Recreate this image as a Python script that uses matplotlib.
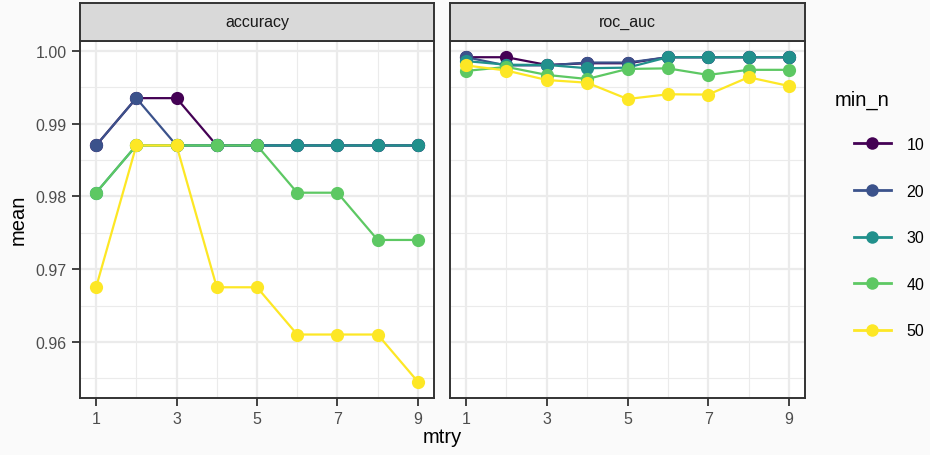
import matplotlib
matplotlib.use("Agg")
import matplotlib.pyplot as plt
from matplotlib.lines import Line2D
import numpy as np

plt.rcParams['font.family'] = ['Liberation Sans', 'DejaVu Sans']

# data
mtry = [1, 2, 3, 4, 5, 6, 7, 8, 9]
min_n = ['10', '20', '30', '40', '50']
colors = ['#440154', '#3B528B', '#21908C', '#5DC863', '#FDE725']

accuracy = {
    '10': [0.98701, 0.99351, 0.99351, 0.98701, 0.98701, 0.98701, 0.98701, 0.98701, 0.98701],
    '20': [0.98701, 0.99351, 0.98701, 0.98701, 0.98701, 0.98701, 0.98701, 0.98701, 0.98701],
    '30': [0.98052, 0.98701, 0.98701, 0.98701, 0.98701, 0.98701, 0.98701, 0.98701, 0.98701],
    '40': [0.98052, 0.98701, 0.98701, 0.98701, 0.98701, 0.98052, 0.98052, 0.97403, 0.97403],
    '50': [0.96753, 0.98701, 0.98701, 0.96753, 0.96753, 0.96104, 0.96104, 0.96104, 0.95455],
}
roc_auc = {
    '10': [0.99913, 0.99913, 0.99807, 0.99830, 0.99830, 0.99913, 0.99913, 0.99913, 0.99913],
    '20': [0.99913, 0.99800, 0.99800, 0.99840, 0.99840, 0.99913, 0.99913, 0.99913, 0.99913],
    '30': [0.99860, 0.99810, 0.99807, 0.99762, 0.99770, 0.99913, 0.99913, 0.99913, 0.99913],
    '40': [0.99725, 0.99780, 0.99670, 0.99614, 0.99752, 0.99760, 0.99670, 0.99740, 0.99740],
    '50': [0.99800, 0.99730, 0.99600, 0.99563, 0.99339, 0.99404, 0.99400, 0.99638, 0.99518],
}
metrics = ['accuracy', 'roc_auc']
values = {'accuracy': accuracy, 'roc_auc': roc_auc}

W, H = 930, 456
fig = plt.figure(figsize=(W / 100, H / 100), dpi=100, facecolor='#FAFAFA')

def px_axes(x0, y0, x1, y1):
    return fig.add_axes([x0 / W, 1 - y1 / H, (x1 - x0) / W, (y1 - y0) / H])

allv = np.concatenate([np.array(values[m][k]) for m in metrics for k in min_n])
ymin, ymax = allv.min(), allv.max()
ypad = (ymax - ymin) * 0.05
xpad = (max(mtry) - min(mtry)) * 0.05

panels = [(80, 434), (450, 805)]
top, bottom = 42, 399
edge = '#333333'

for i, (m, (x0, x1)) in enumerate(zip(metrics, panels)):
    ax = px_axes(x0, top, x1, bottom)
    ax.set_facecolor('white')
    for k, c in zip(min_n, colors):
        ax.plot(mtry, values[m][k], color=c, lw=1.6, zorder=2, solid_capstyle='butt')
    for k, c in zip(min_n, colors):
        ax.plot(mtry, values[m][k], 'o', color=c, ms=9.5, mew=0, zorder=3)
    ax.set_xlim(min(mtry) - xpad, max(mtry) + xpad)
    ax.set_ylim(ymin - ypad, ymax + ypad)
    ax.set_xticks([1, 3, 5, 7, 9])
    ax.set_xticks([2, 4, 6, 8], minor=True)
    ax.set_yticks([0.96, 0.97, 0.98, 0.99, 1.00])
    ax.set_yticks([0.955, 0.965, 0.975, 0.985, 0.995], minor=True)
    ax.grid(which='major', color='#EBEBEB', lw=1.6, zorder=0)
    ax.grid(which='minor', color='#EBEBEB', lw=0.8, zorder=0)
    ax.set_axisbelow(True)
    for s in ax.spines.values():
        s.set_color(edge)
        s.set_linewidth(1.4)
    ax.tick_params(which='major', length=5.5, width=1.3, color=edge,
                   labelsize=11.5, labelcolor='#4D4D4D', pad=4)
    ax.tick_params(which='minor', length=0)
    if i == 0:
        ax.set_yticklabels(['0.96', '0.97', '0.98', '0.99', '1.00'])
    else:
        ax.tick_params(axis='y', which='both', left=False, labelleft=False)

    # strip
    sax = px_axes(x0, 4, x1, top)
    sax.set_xlim(0, 1)
    sax.set_ylim(0, 1)
    sax.set_xticks([])
    sax.set_yticks([])
    sax.set_facecolor('#D9D9D9')
    for s in sax.spines.values():
        s.set_color(edge)
        s.set_linewidth(1.4)
    sax.text(0.5, 0.5, m, ha='center', va='center', fontsize=11.5, color='#1A1A1A')

fig.text(442 / W, 1 - 438 / H, 'mtry', ha='center', va='center', fontsize=14.5)
fig.text(18 / W, 1 - 220 / H, 'mean', ha='center', va='center', fontsize=14.5, rotation=90)

fig.text(835 / W, 1 - 100 / H, 'min_n', ha='left', va='center', fontsize=14.5)
handles = [Line2D([0], [0], color=c, lw=2.0, marker='o', ms=9, mew=0) for c in colors]
leg = fig.legend(handles, min_n, loc='upper left',
                 bbox_to_anchor=(854 / W, 1 - 138 / H), frameon=False,
                 fontsize=11.5, labelspacing=1.98,
                 handlelength=2.3, handletextpad=1.0, borderpad=0, borderaxespad=0)

fig.savefig('out.png', dpi=100, facecolor=fig.get_facecolor())
